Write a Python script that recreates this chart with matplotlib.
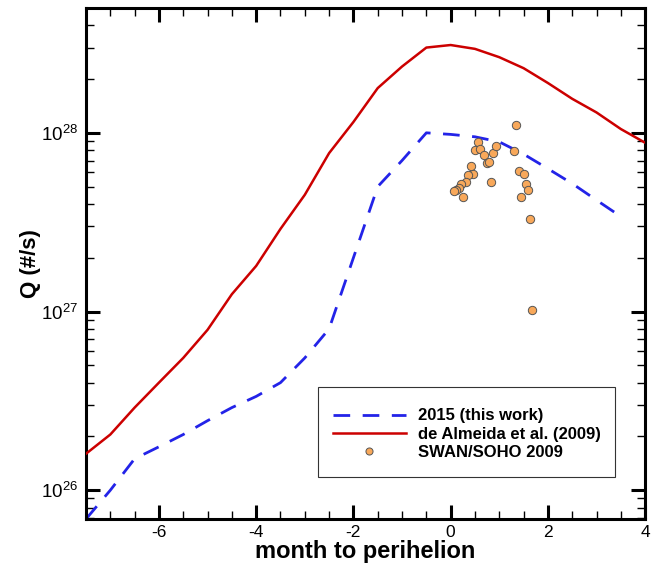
import matplotlib
matplotlib.use('Agg')
from matplotlib import pyplot as plt
from matplotlib import ticker
from matplotlib.patches import Rectangle
import numpy as np

plt.rcParams['font.family'] = ['Liberation Sans', 'DejaVu Sans']
plt.rcParams['mathtext.fontset'] = 'custom'
plt.rcParams['mathtext.rm'] = 'Liberation Sans'
plt.rcParams['mathtext.it'] = 'Liberation Sans'

# model months relative to perihelion
months = [-7.5, -7, -6.5, -6, -5.5, -5, -4.5, -4, -3.5, -3, -2.5, -2, -1.5, -1,
          -0.5, 0, 0.5, 1, 1.5, 2, 2.5, 3, 3.5, 4]
q_almeida = [1.6e26, 2.05e26, 2.9e26, 4.0e26, 5.5e26, 7.9e26, 1.25e27, 1.8e27,
             2.9e27, 4.5e27, 7.7e27, 1.15e28, 1.78e28, 2.35e28, 3.0e28, 3.1e28,
             2.95e28, 2.65e28, 2.3e28, 1.9e28, 1.55e28, 1.3e28, 1.05e28, 8.8e27]

months_2015 = [-7.5, -7, -6.5, -6, -5.5, -5, -4.5, -4, -3.5, -3, -2.5, -2, -1.5,
               -1, -0.5, 0, 0.5, 1, 1.5, 2, 2.5, 3, 3.5]
q_2015 = [6.9e25, 1.0e26, 1.5e26, 1.75e26, 2.05e26, 2.45e26, 2.9e26, 3.35e26,
          4.0e26, 5.5e26, 8.0e26, 2.0e27, 5.0e27, 7.0e27, 1.0e28, 9.8e27,
          9.5e27, 8.9e27, 7.6e27, 6.3e27, 5.2e27, 4.2e27, 3.4e27]

# SWAN/SOHO 2009 observations
swan_month = [1.35, 0.56, 0.50, 0.60, 0.69, 0.74, 0.79, 0.88, 0.93, 1.31, 0.41,
              0.45, 0.35, 0.31, 0.21, 0.17, 0.11, 0.06, 0.26, 0.83, 1.40, 1.50,
              1.55, 1.59, 1.44, 1.64, 1.68]
swan_q = [1.1e28, 8.9e27, 8.0e27, 8.1e27, 7.5e27, 6.8e27, 6.9e27, 7.7e27, 8.4e27,
          7.9e27, 6.5e27, 5.9e27, 5.8e27, 5.3e27, 5.2e27, 4.9e27, 4.8e27, 4.75e27,
          4.35e27, 5.3e27, 6.1e27, 5.9e27, 5.2e27, 4.8e27, 4.35e27, 3.3e27, 1.02e27]

fig, ax = plt.subplots(figsize=(6.59, 5.66), dpi=100)
fig.subplots_adjust(left=0.1305, right=0.979, top=0.986, bottom=0.083)

ax.plot(months_2015, q_2015, color='#2323e8', lw=2.0, dashes=(6, 4.5),
        label='2015 (this work)', zorder=2)
ax.plot(months, q_almeida, color='#cc0000', lw=1.8, label='de Almeida et al. (2009)',
        zorder=3)
ax.plot(swan_month, swan_q, lw=0, marker='o', ms=6, mfc='#f8a85a', mec='#555555',
        mew=0.7, label='SWAN/SOHO 2009', zorder=4)

ax.set_yscale('log')
ax.set_xlim(-7.5, 4)
ax.set_ylim(6.9e25, 5e28)

ax.xaxis.set_major_locator(ticker.MultipleLocator(2))
ax.xaxis.set_minor_locator(ticker.MultipleLocator(0.5))
ax.xaxis.set_major_formatter(ticker.FuncFormatter(lambda v, p: '%d' % round(v)))
ax.yaxis.set_major_locator(ticker.LogLocator(base=10, numticks=10))
ax.yaxis.set_minor_locator(ticker.LogLocator(base=10, subs=np.arange(2, 10), numticks=20))
ax.yaxis.set_minor_formatter(ticker.NullFormatter())
ax.yaxis.set_major_formatter(ticker.FuncFormatter(
    lambda v, p: '$10^{%d}$' % int(round(np.log10(v)))))

ax.tick_params(which='both', direction='in', top=True, right=True)
ax.tick_params(which='major', length=10, width=2.2, labelsize=12.5, pad=4)
ax.tick_params(which='minor', length=5.5, width=1.0)
ax.tick_params(axis='y', which='major', labelsize=13.5, pad=6)
for s in ax.spines.values():
    s.set_linewidth(2.2)

ax.set_xlabel('month to perihelion', fontsize=17, fontweight='bold', labelpad=0)
ax.set_ylabel('Q (#/s)', fontsize=16, fontweight='bold', labelpad=0)

# legend box drawn separately so the padding can differ per side
ax.add_patch(Rectangle((0.415, 0.082), 0.531, 0.176, transform=ax.transAxes,
                       fill=True, facecolor='white', edgecolor='#333333', lw=0.8,
                       zorder=5))
leg = ax.legend(loc='center', bbox_to_anchor=(0.681, 0.166), borderaxespad=0,
                frameon=False, handlelength=4.4, handletextpad=0.72,
                borderpad=0, labelspacing=0.2, markerscale=0.85,
                prop={'weight': 'bold', 'size': 12})
leg.set_zorder(6)

fig.savefig('out.png', dpi=100)
